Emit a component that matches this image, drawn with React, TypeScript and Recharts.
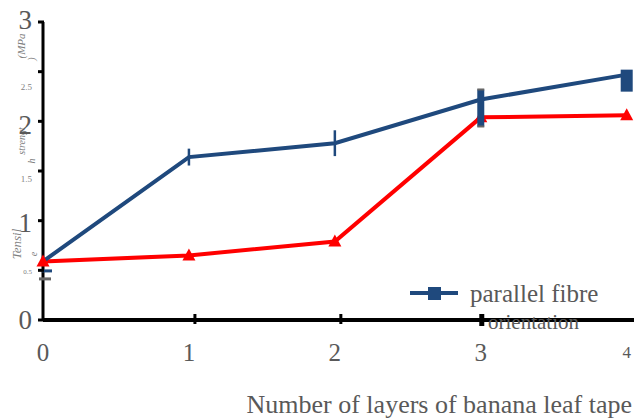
import React from 'react';
import { LineChart, Line, XAxis, YAxis, ErrorBar, Legend } from 'recharts';

const layers = [0, 1, 2, 3, 4];
const parallel = [0.59, 1.64, 1.78, 2.22, 2.47];
const parallelErr = [0, 0.085, 0.13, 0, 0];
const parallelMarker = ['tick', 'none', 'none', 'bar', 'square'];
const crossed = [0.59, 0.65, 0.79, 2.04, 2.06];
const yTicks = [0, 0.5, 1, 1.5, 2, 2.5, 3];
const xTicks = [0, 1, 2, 3, 4];
const legendLine1 = 'parallel fibre';
const legendLine2 = 'orientation';
const xTitle = 'Number of layers of banana leaf tape';
const yTitleParts = ['Tensil', 'e', 'strengt', 'h', '(MPa', ')'];

const data = layers.map((l, i) => ({
  layers: l,
  parallel: parallel[i],
  parallelErr: parallelErr[i],
  marker: parallelMarker[i],
  crossed: crossed[i],
}));

const SERIF = '"Liberation Serif", "Times New Roman", serif';
const BLUE = '#1f497d';
const RED = '#ff0000';
const GRAY = '#595959';

const BlueDot = (props: any) => {
  const { cx, cy, payload, index } = props;
  if (cx == null || cy == null) return null;
  const m = payload.marker;
  if (m === 'bar') {
    return (
      <g key={`b${index}`}>
        <rect x={cx - 3.5} y={cy - 10} width={7} height={37} fill={BLUE} />
        <rect x={cx - 3.5} y={cy - 11} width={7} height={2} fill="#666" />
        <rect x={cx - 3.5} y={cy + 26} width={7} height={2} fill="#666" />
      </g>
    );
  }
  if (m === 'square') {
    return <rect key={`b${index}`} x={cx - 6} y={cy - 5} width={12} height={22} fill={BLUE} />;
  }
  if (m === 'tick') {
    return (
      <g key={`b${index}`}>
        <rect x={cx - 1} y={cy + 8} width={10} height={3} fill={BLUE} />
        <rect x={cx - 4} y={cy + 16} width={12} height={3} fill="#666" />
      </g>
    );
  }
  return <g key={`b${index}`} />;
};

const RedDot = (props: any) => {
  const { cx, cy, index } = props;
  if (cx == null || cy == null) return null;
  return (
    <polygon
      key={`r${index}`}
      points={`${cx},${cy - 7} ${cx - 6.5},${cy + 5} ${cx + 6.5},${cy + 5}`}
      fill={RED}
    />
  );
};

const YTick = (props: any) => {
  const { y, payload } = props;
  const v = payload.value;
  const big = Number.isInteger(v);
  const dyMap: Record<string, number> = { '3': -2, '2.5': 15, '2': 4, '1.5': 8, '1': 2, '0.5': 2, '0': 0 };
  const dy = dyMap[String(v)] ?? 0;
  return (
    <g>
      <line x1={38} x2={44} y1={y} y2={y} stroke="#000" strokeWidth={3} />
      <text
        x={32}
        y={y + dy}
        textAnchor="end"
        dominantBaseline="central"
        style={{ fontFamily: SERIF }}
        fontSize={big ? 27 : v === 0.5 ? 7 : 9}
        fill={big ? GRAY : '#7f7f7f'}
      >
        {v}
      </text>
    </g>
  );
};

const XTick = (props: any) => {
  const { x, payload } = props;
  const v = payload.value;
  const axisY = 320;
  const off = v === 1 || v === 2 ? 6 : 0;
  return (
    <g>
      {v > 0 && v < 4 && (
        <rect x={x + off - 1.5} y={axisY - 6} width={v === 3 ? 5 : 3} height={v === 3 ? 12 : 10} fill="#000" />
      )}
      <text
        x={x}
        y={axisY + 32}
        textAnchor="middle"
        dominantBaseline="central"
        style={{ fontFamily: SERIF }}
        fontSize={v === 4 ? 17 : 25}
        fill={GRAY}
      >
        {v}
      </text>
    </g>
  );
};

const XTitle = () => (
  <text x={632} y={413} textAnchor="end" style={{ fontFamily: SERIF }} fontSize={26} fill={GRAY}>
    {xTitle}
  </text>
);

const YTitle = () => {
  const pos = [
    { x: 16, y: 244, s: 13 },
    { x: 33, y: 254, s: 10 },
    { x: 21, y: 141, s: 10 },
    { x: 31, y: 161, s: 10 },
    { x: 21, y: 46, s: 11 },
    { x: 31, y: 59, s: 10 },
  ];
  return (
    <g>
      {yTitleParts.map((t, i) => (
        <text
          key={t + i}
          x={pos[i].x}
          y={pos[i].y}
          transform={`rotate(-90 ${pos[i].x} ${pos[i].y})`}
          textAnchor="middle"
          dominantBaseline="central"
          style={{ fontFamily: SERIF, fontStyle: 'italic' }}
          fontSize={pos[i].s}
          fill="#7f7f7f"
        >
          {t}
        </text>
      ))}
    </g>
  );
};

const LegendContent = () => (
  <svg width={634} height={419} style={{ position: 'absolute', left: 0, top: 0 }}>
    <line x1={410} x2={458} y1={293} y2={293} stroke={BLUE} strokeWidth={4} />
    <rect x={428} y={287} width={13} height={13} fill={BLUE} />
    <text x={470} y={302} style={{ fontFamily: SERIF }} fontSize={25} fill={GRAY}>
      {legendLine1}
    </text>
    <text x={488} y={329} style={{ fontFamily: SERIF }} fontSize={21} fill={GRAY}>
      {legendLine2}
    </text>
  </svg>
);

export default function App() {
  return (
    <div style={{ position: 'absolute', left: 0, top: 0, width: 634, height: 419, background: '#fff' }}>
      <LineChart
        width={634}
        height={419}
        data={data}
        margin={{ top: 22, right: 0, left: 0, bottom: 0 }}
      >
        <XAxis
          dataKey="layers"
          type="number"
          domain={[0, 4.05]}
          ticks={xTicks}
          height={99}
          axisLine={{ stroke: '#000', strokeWidth: 4 }}
          tickLine={false}
          tick={<XTick />}
          interval={0}
          label={{ content: <XTitle /> }}
        />
        <YAxis
          type="number"
          domain={[0, 3]}
          ticks={yTicks}
          width={43}
          axisLine={{ stroke: '#000', strokeWidth: 3 }}
          tickLine={false}
          tick={<YTick />}
          interval={0}
          label={{ content: <YTitle /> }}
        />
        <Line
          dataKey="crossed"
          stroke={RED}
          strokeWidth={4}
          dot={<RedDot />}
          isAnimationActive={false}
        />
        <Line
          dataKey="parallel"
          name={legendLine1}
          stroke={BLUE}
          strokeWidth={4}
          dot={<BlueDot />}
          isAnimationActive={false}
        >
          <ErrorBar dataKey="parallelErr" width={0} strokeWidth={2.5} stroke={BLUE} direction="y" isAnimationActive={false} />
        </Line>
        <Legend
          layout="horizontal"
          verticalAlign="middle"
          align="center"
          wrapperStyle={{ left: 0, top: 0, width: 634, height: 419, pointerEvents: 'none' }}
          content={<LegendContent />}
        />
      </LineChart>
    </div>
  );
}
